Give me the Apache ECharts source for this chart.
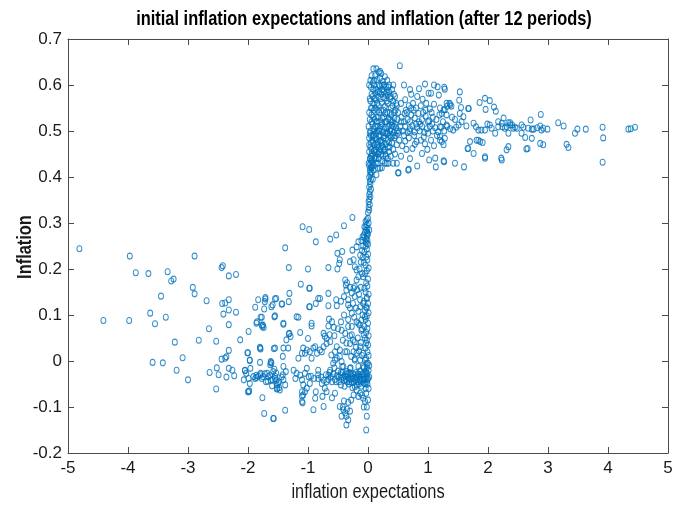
<!DOCTYPE html>
<html><head><meta charset="utf-8">
<script src="https://cdn.jsdelivr.net/npm/echarts@6/dist/echarts.min.js"></script>
<style>html,body{margin:0;padding:0;background:#fff}#c{width:677px;height:505px}</style>
</head><body><div id="c"></div>
<script>
const titleText = 'initial inflation expectations and inflation (after 12 periods)';
const xName = 'inflation expectations';
const yName = 'Inflation';
const xTicks = [-5,-4,-3,-2,-1,0,1,2,3,4,5];
const yTicks = [-0.2,-0.1,0,0.1,0.2,0.3,0.4,0.5,0.6,0.7];

// [initial inflation expectation, inflation]
const farLeft = [
[-4.81,0.244],[-4.41,0.088],[-3.97,0.228],[-3.98,0.088],[-3.87,0.192],[-3.66,0.19],[-3.63,0.104],[-3.55,0.081],[-3.59,-0.003],[-3.45,0.141],[-3.34,0.194],[-3.28,0.174],[-3.24,0.178],[-3.37,0.095],[-3.42,-0.004],[-3.22,0.041],[-3.19,-0.02],[-3.09,0.007],[-3.0,-0.041],[-2.89,0.228],[-2.92,0.16],[-2.89,0.146],[-2.82,0.045],[-2.69,0.131],[-2.65,0.07],[-2.53,0.043],[-2.44,0.203],[-2.42,0.207],[-2.32,0.185],[-2.2,0.188],[-2.43,0.125],[-2.38,0.126],[-2.32,0.133],[-2.41,0.102],[-2.32,0.111],[-2.2,0.106],[-2.32,0.079],[-2.13,0.046],[-2.64,-0.025],[-2.53,-0.061],[-2.52,-0.015],[-2.44,0.004],[-2.38,0.006],[-2.36,0.009],[-2.49,-0.03],[-2.36,-0.035],[-2.32,0.023],[-2.32,-0.016],[-2.26,-0.02],[-2.23,-0.032],[-2.05,-0.021],[-1.99,-0.038],[-1.99,-0.067],[-1.98,-0.065],[-1.99,0.064],[-2.0,0.018],[-1.97,0.001],[-1.96,-0.016],[-1.88,0.117],[-1.85,0.085],[-1.83,0.133],[-1.77,0.095],[-1.76,0.075],[-1.75,0.078],[-1.73,0.113],[-1.71,0.138],[-1.71,0.135],[-1.8,0.028],[-1.79,0.026],[-1.8,-0.003],[-1.76,-0.08],[-1.73,-0.114],[-1.57,-0.125],[-1.38,-0.107],
[-1.91,-0.034],[-1.86,-0.036],[-1.83,-0.033],[-1.79,-0.03],[-1.75,-0.034],[-1.72,-0.028],[-1.68,-0.027],[-1.63,-0.031],[-1.59,-0.04],[-1.55,-0.033],[-1.53,-0.042],[-1.5,-0.048],[-1.48,-0.058],[-1.52,-0.061],[-1.6,-0.054],[-1.62,-0.042],[-1.67,-0.044],[-1.62,-0.003],[-1.63,-0.008],[-1.56,-0.018],[-1.53,-0.026],[-1.57,0.027],[-1.55,0.098],[-1.55,0.135],[-1.53,0.136],[-1.44,0.124],[-1.41,0.082],[-1.36,0.046],[-1.32,0.059],[-1.31,0.147],[-1.32,0.129],[-1.32,0.203],[-1.38,0.246],[-1.29,0.053],[-1.19,0.096],[-1.16,0.095],[-1.12,0.167],[-1.13,0.062],[-1.09,0.292],[-0.98,0.286],[-1.0,0.2],[-0.98,0.158],[-0.98,0.118],[-1.0,0.049],[-1.02,0.024],[-1.05,-0.067],[-1.09,-0.091],[-1.1,-0.076],
[-0.87,0.259],[-0.63,0.265],[-0.53,0.274],[-0.4,0.294],[-0.26,0.312],[-0.66,0.203],[-0.51,0.2],[-0.51,0.234],[-0.43,0.238],[-0.47,0.22],[-0.48,0.212],[-0.26,0.241],[-0.19,0.248],[-0.16,0.259],[-0.3,0.216],[-0.24,0.22],[-0.22,0.205],[-0.19,0.198],[-0.16,0.183],[-0.19,0.176],[-0.22,0.162],[-0.24,0.158],[-0.38,0.176],[-0.37,0.165],[-0.36,0.154],[-0.97,0.158],[-0.66,0.147],[-1.59,0.122],[-1.61,0.118],[-1.43,0.124],[-1.72,0.129],[-1.56,0.096],[-1.79,0.095],[-0.97,0.118],[-0.87,0.125],[-0.83,0.136],[-0.8,0.136],[-0.66,0.12],[-0.53,0.133],[-0.52,0.12],[-0.65,0.091],[-0.94,0.082],[-0.33,0.133],[-0.33,0.122],[-0.3,0.115],[-0.27,0.104],[-0.13,0.133],[-0.08,0.125],[-0.02,0.136],[-0.02,0.115],[-0.05,0.096],[-0.11,0.089],
[-1.86,0.082],[-1.77,0.078],[-1.74,0.073],[-1.41,0.08],[-0.94,0.076],[-1.31,0.06],[-0.66,0.076],[-0.57,0.073],[-0.64,0.057],[-0.72,0.054],[-0.44,0.067],[-0.33,0.075],[-0.27,0.057],[-0.22,0.042],[-0.36,0.039],[-0.16,0.082],[-0.11,0.067],[-0.07,0.057],[-0.03,0.039],[-0.13,0.031],
[-2.01,0.018],[-1.97,0.002],[-2.05,-0.02],[-2.03,-0.027],[-2.07,-0.041],[-1.97,-0.049],[-2.0,-0.067],[-1.8,0.03],[-1.62,-0.001],[-1.61,-0.005],[-1.79,-0.027],[-1.77,-0.038],[-1.86,-0.031],[-1.88,-0.038],[-1.7,-0.045],[-1.66,-0.034],[-1.58,-0.023],[-1.55,-0.038],[-1.52,-0.052],[-1.51,-0.059],[-1.48,-0.045],[-1.44,-0.035],[-1.41,-0.041],[-1.38,-0.052],[-1.47,-0.063],[-1.55,0.028],[-1.41,0.028],[-1.33,0.028],[-1.42,0.01],[-1.41,-0.012],[-1.37,-0.023],[-1.42,-0.03],[-1.58,-0.125]
];
const nearZero = [
[-1.24,-0.02],[-1.21,-0.038],[-1.19,-0.027],[-1.13,-0.031],[-1.1,-0.041],[-1.05,-0.027],[-1.02,-0.016],[-0.99,-0.034],[-1.08,-0.052],[-0.97,-0.049],[-1.1,-0.067],[-1.08,-0.074],[-1.1,-0.088],[-1.02,-0.059],[-1.16,0.006],[-1.1,0.017],[-1.08,0.028],[-1.05,0.017],[-0.97,0.02],[-0.91,0.028],[-0.88,0.031],[-0.85,0.017],[-0.8,0.024],[-0.74,0.031],[-0.69,0.038],[-0.94,0.006],[-0.83,-0.02],[-0.83,-0.038],[-0.77,-0.049],[-0.72,-0.059],[-0.87,-0.067],[-0.88,-0.081],[-0.76,-0.077],[-0.69,-0.067],[-0.74,-0.099],[-0.91,-0.106],[-0.69,-0.045],[-0.66,-0.031],[-0.63,-0.02],[-0.58,-0.005],[-0.55,0.002],[-0.52,0.006],[-0.47,0.01],[-0.44,-0.001],[-0.47,0.024],[-0.38,0.02],[-0.41,-0.012],[-0.36,-0.023],[-0.3,-0.016],
[-0.74,0.06],[-0.69,0.049],[-0.63,0.042],[-0.77,0.02],[-0.61,0.013],[-0.55,0.02],[-0.52,0.031],[-0.3,0.038],[-0.24,0.02],[-0.19,0.017],[-0.13,0.002],[-0.22,0.002],[-0.08,0.017],[-0.05,0.002],[-0.02,-0.005],[-0.08,-0.012],
[-0.62,-0.035],[-0.58,-0.028],[-0.55,-0.04],[-0.52,-0.032],[-0.5,-0.022],[-0.48,-0.045],[-0.46,-0.03],[-0.44,-0.038],[-0.42,-0.025],[-0.4,-0.042],[-0.38,-0.033],[-0.36,-0.028],[-0.35,-0.045],[-0.33,-0.036],[-0.31,-0.025],[-0.3,-0.04],[-0.28,-0.032],[-0.27,-0.047],[-0.25,-0.028],[-0.24,-0.038],[-0.22,-0.03],[-0.21,-0.043],[-0.2,-0.025],[-0.18,-0.035],[-0.17,-0.045],[-0.15,-0.03],[-0.14,-0.04],[-0.13,-0.022],[-0.12,-0.035],[-0.1,-0.042],[-0.09,-0.028],[-0.08,-0.036],[-0.07,-0.048],[-0.06,-0.03],[-0.05,-0.04],[-0.04,-0.022],[-0.03,-0.035],[-0.02,-0.045],[-0.01,-0.028],[0.0,-0.038],[0.01,-0.02],[-0.45,-0.052],[-0.39,-0.055],[-0.32,-0.05],[-0.26,-0.058],[-0.19,-0.052],[-0.11,-0.055],[-0.04,-0.06],[-0.56,-0.015],[-0.43,-0.012],[-0.29,-0.015],[-0.16,-0.012],[-0.07,-0.015],[0.02,-0.01],[-0.66,-0.04],[-0.7,-0.03],[-0.74,-0.042],[-0.78,-0.035],[-0.83,-0.03],[-0.9,-0.038],[-0.95,-0.033],
[-0.45,-0.025],[-0.41,-0.035],[-0.37,-0.04],[-0.34,-0.03],[-0.31,-0.045],[-0.29,-0.028],[-0.26,-0.038],[-0.23,-0.046],[-0.2,-0.035],[-0.17,-0.028],[-0.15,-0.05],[-0.12,-0.045],[-0.1,-0.03],[-0.07,-0.04],[-0.05,-0.05],[-0.03,-0.025],[-0.01,-0.04],[-0.53,-0.045],[-0.49,-0.035],[-0.6,-0.045],[-0.64,-0.025],
[-0.02,-0.1],[0.0,-0.085],[-0.03,-0.07],[0.01,-0.06],[-0.01,-0.05],[0.02,-0.035],[-0.02,-0.015],[0.0,-0.005],[-0.03,0.005],[0.01,0.012],[-0.01,0.02],[-0.04,0.028],[0.0,0.035],[-0.02,0.045],[-0.05,0.05],[0.01,0.055],[-0.03,0.062],[-0.01,0.07],[-0.06,0.075],[0.0,0.082],[-0.04,0.09],[-0.02,0.098],[0.01,0.105],[-0.05,0.11],[-0.03,0.118],[0.0,0.125],[-0.07,0.13],[-0.02,0.138],[0.01,0.145],[-0.04,0.15],[-0.06,0.158],[-0.01,0.163],[-0.03,0.17],[0.0,0.178],[-0.08,0.183],[-0.05,0.19],[-0.02,0.196],[0.01,0.202],[-0.04,0.208],[-0.07,0.214],[-0.01,0.22],[-0.03,0.226],[0.0,0.232],[-0.06,0.237],[-0.02,0.243],[-0.04,0.25],[0.0,0.254],
[-0.35,0.17],[-0.3,0.16],[-0.27,0.148],[-0.22,0.14],[-0.18,0.155],[-0.15,0.145],[-0.12,0.16],[-0.25,0.125],[-0.2,0.115],[-0.16,0.108],[-0.13,0.118],[-0.09,0.1],[-0.23,0.095],[-0.19,0.085],[-0.14,0.078],[-0.1,0.07],[-0.27,0.075],[-0.33,0.09],[-0.4,0.1],[-0.45,0.085],[-0.5,0.07],[-0.3,0.055],[-0.25,0.045],[-0.17,0.05],[-0.12,0.04],[-0.2,0.03],[-0.15,0.022],[-0.1,0.012],[-0.35,0.02],[-0.28,0.01],[-0.22,0.005],[-0.42,0.045],[-0.38,0.06],[-0.56,0.055],[-0.6,0.085],[-0.45,0.13],[-0.4,0.14],[-0.1,0.19],[-0.14,0.2],[-0.12,0.215],[-0.09,0.225],[-0.13,0.23],[-0.1,0.24],[-0.08,0.25],[-0.11,0.262],[-0.09,0.27],
[-0.47,-0.099],[-0.41,-0.106],[-0.38,-0.113],[-0.36,-0.12],[-0.33,-0.128],[-0.36,-0.139],[-0.3,-0.109],[-0.44,-0.12],[-0.03,-0.15],[-0.02,-0.12],[-0.05,-0.088],[-0.08,-0.081],[-0.1,-0.074],[-0.19,-0.063],[-0.22,-0.056],[-0.24,-0.074],[-0.16,-0.077],[-0.42,-0.1],[-0.35,-0.105],[-0.4,-0.087],[-0.55,-0.07],[-0.6,-0.08],[-0.13,-0.07],[-0.07,-0.1],[-0.28,-0.085],[-0.33,-0.09],
[-0.04,0.258],[-0.01,0.263],[-0.06,0.268],[-0.02,0.272],[0.0,0.276],[-0.05,0.28],[-0.03,0.284],[-0.01,0.288],[-0.06,0.292],[-0.02,0.296],[0.01,0.3],[-0.04,0.303],[-0.02,0.307],[0.0,0.31],[-0.03,0.265],[-0.01,0.279],[-0.04,0.291],[-0.07,0.274],[0.02,0.285],[-0.02,0.256],
[0.0,0.323],[0.02,0.328],[0.01,0.334],[0.03,0.34],[0.01,0.346],[0.02,0.352],[0.04,0.357],[0.02,0.362],[0.03,0.368],[0.05,0.373],[0.02,0.378],[0.04,0.384],[0.03,0.39],[0.05,0.395],[0.02,0.4],[0.04,0.405],[0.06,0.41],[0.03,0.415],[0.05,0.42],[0.07,0.425],[0.04,0.43],[0.06,0.435],[0.03,0.44],[0.05,0.445]
];
const upperCore = [
[0.12,0.62],[0.18,0.628],[0.22,0.625],[0.28,0.618],[0.15,0.612],[0.25,0.608],[0.08,0.605],[0.32,0.61],[0.53,0.642],
[0.05,0.595],[0.1,0.6],[0.14,0.59],[0.2,0.598],[0.24,0.59],[0.3,0.595],[0.35,0.585],[0.4,0.59],[0.06,0.58],[0.12,0.582],[0.17,0.575],[0.22,0.58],[0.27,0.572],[0.33,0.578],[0.45,0.575],[0.6,0.6],[0.7,0.59],[0.72,0.58],[0.95,0.602],[1.16,0.596],[1.28,0.591],[1.05,0.582],[1.18,0.578],[0.91,0.569],[1.01,0.582],[0.82,0.575],[0.85,0.592],[1.1,0.6],
[0.04,0.565],[0.09,0.56],[0.13,0.568],[0.18,0.555],[0.23,0.562],[0.28,0.553],[0.33,0.56],[0.38,0.55],[0.42,0.565],[0.48,0.555],[0.55,0.56],[0.62,0.568],[0.68,0.555],[0.75,0.56],[0.8,0.55],[0.88,0.555],[0.97,0.56],[1.03,0.548],[1.1,0.558],[1.2,0.55],[1.36,0.56],[1.32,0.554],[1.28,0.546],[1.53,0.585],[1.52,0.567],[1.55,0.551],[1.31,0.56],[1.37,0.557],[1.39,0.554],[1.26,0.546],[1.23,0.538],[1.31,0.535],[1.67,0.549],[1.27,0.595],
[0.02,0.54],[0.06,0.535],[0.1,0.545],[0.14,0.53],[0.19,0.54],[0.24,0.528],[0.29,0.538],[0.34,0.525],[0.39,0.535],[0.44,0.528],[0.5,0.54],[0.56,0.53],[0.61,0.538],[0.66,0.525],[0.72,0.535],[0.78,0.528],[0.84,0.538],[0.9,0.525],[0.96,0.532],[1.02,0.522],[1.08,0.53],[1.14,0.525],[1.19,0.535],[1.45,0.525],[1.53,0.538],[1.59,0.531],[1.56,0.52],[1.4,0.53],
[0.01,0.51],[0.04,0.5],[0.07,0.515],[0.1,0.505],[0.13,0.495],[0.16,0.51],[0.19,0.5],[0.22,0.512],[0.25,0.498],[0.28,0.508],[0.31,0.495],[0.34,0.51],[0.37,0.5],[0.4,0.512],[0.43,0.497],[0.47,0.507],[0.5,0.495],[0.54,0.51],[0.58,0.5],[0.62,0.51],[0.66,0.497],[0.7,0.505],[0.74,0.512],[0.78,0.498],[0.82,0.507],[0.86,0.5],[0.9,0.51],[0.94,0.497],[0.98,0.505],[1.03,0.51],[1.08,0.5],[1.12,0.507],[1.17,0.498],[1.22,0.508],[1.27,0.5],[1.32,0.51],[1.2,0.509],[1.31,0.513],[1.42,0.502],[1.51,0.513],[1.64,0.511],[1.76,0.517],[1.8,0.509],[1.84,0.502],[1.89,0.502],[1.95,0.502],[2.03,0.513],[1.37,0.505],[1.47,0.508],
[0.02,0.485],[0.05,0.475],[0.08,0.49],[0.11,0.47],[0.14,0.482],[0.17,0.465],[0.2,0.478],[0.23,0.468],[0.26,0.485],[0.3,0.472],[0.33,0.48],[0.36,0.465],[0.4,0.475],[0.44,0.485],[0.48,0.47],[0.52,0.48],[0.57,0.468],[0.62,0.478],[0.68,0.485],[0.74,0.462],[0.78,0.471],[0.81,0.477],[0.99,0.46],[0.9,0.451],[1.2,0.488],[1.23,0.477],[1.28,0.484],[1.26,0.47],[1.2,0.48],[1.7,0.477],[1.67,0.462],[1.76,0.451],[1.81,0.48],[1.87,0.477],[1.91,0.475],[1.66,0.462],[1.84,0.48],[0.88,0.48],[0.95,0.472],[1.05,0.48],[1.1,0.468],[0.64,0.46],
[0.02,0.455],[0.06,0.45],[0.1,0.458],[0.04,0.44],[0.08,0.43],[0.12,0.445],[0.15,0.455],[0.18,0.44],[0.22,0.45],[0.26,0.458],[0.3,0.445],[0.35,0.455],[0.42,0.43],[0.31,0.43],[0.2,0.419],[0.51,0.409],[0.68,0.417],[0.82,0.424],[1.02,0.437],[1.12,0.441],[1.13,0.422],[1.26,0.435],[1.45,0.43],[1.6,0.422],[1.27,0.433],[1.95,0.444],[1.95,0.441],[0.17,0.419],[0.34,0.43],[0.48,0.43],[0.5,0.409],[0.67,0.415],[0.45,0.45],[0.55,0.445],[0.7,0.44],
[0.03,0.525],[0.07,0.55],[0.11,0.525],[0.16,0.545],[0.21,0.52],[0.26,0.545],[0.31,0.52],[0.36,0.54],[0.41,0.52],[0.46,0.545],[0.03,0.57],[0.08,0.575],[0.16,0.585],[0.21,0.57],[0.26,0.585],[0.31,0.565],[0.37,0.57],[0.43,0.58],[0.02,0.47],[0.06,0.46],[0.09,0.475],[0.13,0.46],[0.16,0.475],[0.19,0.455],[0.24,0.475],[0.28,0.46],[0.33,0.465],[0.38,0.485],[0.42,0.46],[0.46,0.49],[0.05,0.49],[0.09,0.5],[0.12,0.485],[0.15,0.5],[0.18,0.488],[0.21,0.49],[0.27,0.49],[0.32,0.505],[0.36,0.49],[0.39,0.52],[0.45,0.515],[0.49,0.525],[0.52,0.5],[0.6,0.52],[0.65,0.54],[0.7,0.52],[0.76,0.545],[0.8,0.515],[0.85,0.52],[0.92,0.54],[1.0,0.495],[1.06,0.54],[0.1,0.61],[0.2,0.615],[0.27,0.6],[0.14,0.635],[0.06,0.62],[0.35,0.6],[0.42,0.6],[0.01,0.43],[0.13,0.43],[0.24,0.435],[0.28,0.43],[0.38,0.445],[0.09,0.415],[0.14,0.405],[0.08,0.395],[0.11,0.44],[0.04,0.41],
[0.55,0.52],[0.6,0.49],[0.63,0.545],[0.69,0.5],[0.72,0.55],[0.77,0.49],[0.87,0.515],[0.93,0.487],[0.96,0.545],[1.0,0.52],[1.07,0.515],[1.15,0.49],[1.25,0.52],
[0.02,0.6],[0.04,0.61],[0.09,0.59],[0.11,0.57],[0.15,0.56],[0.19,0.585],[0.23,0.6],[0.29,0.58],[0.34,0.595],[0.38,0.575],[0.41,0.555],[0.44,0.54],[0.47,0.56],[0.05,0.55],[0.12,0.55],[0.17,0.53],[0.22,0.545],[0.27,0.53],[0.32,0.54],[0.37,0.525],[0.43,0.51],[0.48,0.5],[0.06,0.52],[0.09,0.53],[0.12,0.51],[0.15,0.52],[0.2,0.505],[0.24,0.515],[0.29,0.52],[0.33,0.495],[0.38,0.505],[0.03,0.495],[0.07,0.48],[0.1,0.49],[0.15,0.47],[0.18,0.5],[0.22,0.48],[0.25,0.465],[0.29,0.495],[0.35,0.475],[0.41,0.49],[0.04,0.465],[0.07,0.445],[0.11,0.455],[0.14,0.44],[0.17,0.45],[0.21,0.46],[0.25,0.445],[0.29,0.45],[0.33,0.44],[0.02,0.425],[0.06,0.42],[0.1,0.425],[0.16,0.43],[0.23,0.42],[0.26,0.6],[0.18,0.6],[0.31,0.585],[0.09,0.635],[0.2,0.63]
];
const rightTail = [
[2.26,0.528],[2.23,0.517],[2.34,0.518],[2.4,0.513],[2.42,0.506],[2.48,0.506],[2.28,0.506],[2.17,0.509],[2.12,0.495],[2.31,0.459],[2.34,0.466],[2.22,0.441],[2.23,0.437],[1.86,0.562],[1.95,0.571],[2.03,0.566],[2.1,0.552],[2.13,0.543],[1.96,0.547],[1.68,0.549],[2.24,0.509],[2.31,0.509],[2.37,0.513],[2.45,0.508],[2.37,0.518],[2.34,0.495],[2.56,0.513],[2.59,0.508],[2.62,0.486],[2.56,0.495],[2.64,0.461],[2.73,0.484],[2.71,0.524],[2.73,0.504],[2.76,0.504],[2.82,0.507],[2.87,0.511],[2.89,0.502],[2.92,0.506],[2.99,0.504],[2.88,0.536],[2.87,0.473],[2.92,0.47],[3.17,0.518],[3.26,0.511],[3.31,0.471],[3.34,0.464],[3.45,0.495],[3.49,0.504],[3.63,0.504],[3.91,0.508],[3.92,0.485],[3.91,0.432],[4.34,0.504],[4.38,0.505],[4.45,0.508],[2.66,0.462],[2.67,0.506],[2.17,0.52],[2.06,0.506],[1.99,0.515]
];

const points = farLeft.concat(nearZero, upperCore, rightTail);
const FONT = "'Liberation Sans', Arial, sans-serif";
const axisCol = '#4a4a4a';
const txtCol = '#1a1a1a';
const labelStyle = {color:txtCol, fontFamily:FONT, fontSize:17};
function xAx(pos, showLabels){
  return {type:'value', position:pos, min:xTicks[0], max:xTicks[xTicks.length-1], interval:1,
    axisLine:{show:true, onZero:false, lineStyle:{color:axisCol, width:1}},
    axisTick:{show:true, inside:true, length:6, lineStyle:{color:axisCol}},
    axisLabel:Object.assign({show:showLabels, margin:7}, labelStyle),
    splitLine:{show:false}};
}
function yAx(pos, showLabels){
  return {type:'value', position:pos, min:yTicks[0], max:yTicks[yTicks.length-1], interval:0.1,
    axisLine:{show:true, onZero:false, lineStyle:{color:axisCol, width:1}},
    axisTick:{show:true, inside:true, length:6, lineStyle:{color:axisCol}},
    axisLabel:Object.assign({show:showLabels, margin:6, formatter:v=>String(Math.round(v*10)/10)}, labelStyle),
    splitLine:{show:false}};
}
const chart = echarts.init(document.getElementById('c'), null, {renderer:'canvas'});
chart.setOption({
  animation:false,
  backgroundColor:'#fff',
  grid:{left:68, right:9, top:39, bottom:52, containLabel:false},
  xAxis:[xAx('bottom', true), xAx('top', false)],
  yAxis:[yAx('left', true), yAx('right', false)],
  graphic:[
    {type:'text', x:364, y:19, scaleX:0.82, style:{text:titleText, fill:'#000', font:"bold 20px 'Liberation Sans', Arial, sans-serif", textAlign:'center', textVerticalAlign:'middle'}},
    {type:'text', x:368, y:492, scaleX:0.82, style:{text:xName, fill:txtCol, font:"20px 'Liberation Sans', Arial, sans-serif", textAlign:'center', textVerticalAlign:'middle'}},
    {type:'text', x:25, y:247, rotation:Math.PI/2, scaleX:0.82, style:{text:yName, fill:txtCol, font:"bold 20px 'Liberation Sans', Arial, sans-serif", textAlign:'center', textVerticalAlign:'middle'}}
  ],
  series:[{type:'scatter', xAxisIndex:0, yAxisIndex:0, data:points, symbol:'circle', symbolSize:[5,6],
    itemStyle:{color:'rgba(255,255,255,0)', borderColor:'#0072BD', borderWidth:1}}]
});
</script></body></html>
